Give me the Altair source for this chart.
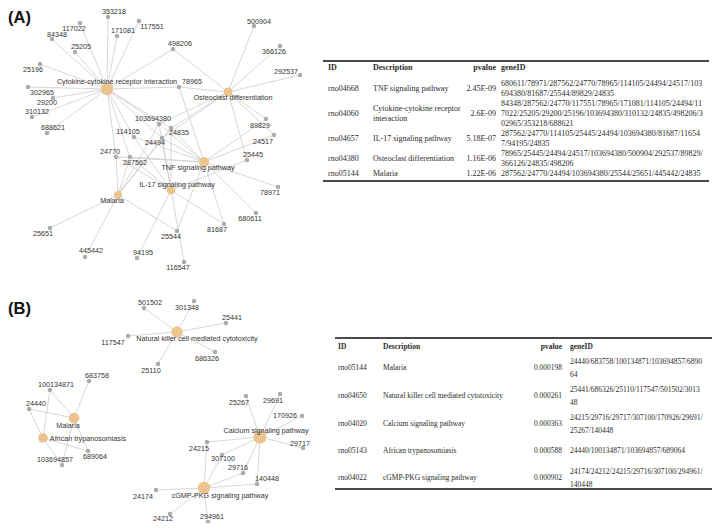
import altair as alt
import pandas as pd

# ---------------- enrichment data (panel A) ----------------
a_ids = ["rno04668", "rno04060", "rno04657", "rno04380", "rno05144"]
a_desc = ["TNF signaling pathway", "Cytokine-cytokine receptor interaction",
          "IL-17 signaling pathway", "Osteoclast differentiation", "Malaria"]
a_desc_lines = [["TNF signaling pathway"], ["Cytokine-cytokine receptor", "interaction"],
                ["IL-17 signaling pathway"], ["Osteoclast differentiation"], ["Malaria"]]
a_pval = ["2.45E-09", "2.6E-09", "5.18E-07", "1.16E-06", "1.22E-06"]
a_gene_lines = [
    ["680611/78971/287562/24770/78965/114105/24494/24517/103", "694380/81687/25544/89829/24835"],
    ["84348/287562/24770/117551/78965/171081/114105/24494/11",
     "7022/25205/29200/25196/103694380/310132/24835/498206/3", "02965/353218/688621"],
    ["287562/24770/114105/25445/24494/103694380/81687/11654", "7/94195/24835"],
    ["78965/25445/24494/24517/103694380/500904/292537/89829/", "366126/24835/498206"],
    ["287562/24770/24494/103694380/25544/25651/445442/24835"],
]
# ---------------- enrichment data (panel B) ----------------
b_ids = ["rno05144", "rno04650", "rno04020", "rno05143", "rno04022"]
b_desc = ["Malaria", "Natural killer cell mediated cytotoxicity", "Calcium signaling pathway",
          "African trypanosomiasis", "cGMP-PKG signaling pathway"]
b_pval = ["0.000198", "0.000261", "0.000363", "0.000588", "0.000902"]
b_gene_lines = [
    ["24440/683758/100134871/103694857/6890", "64"],
    ["25441/686326/25110/117547/501502/3013", "48"],
    ["24215/29716/29717/307100/170926/29691/", "25267/140448"],
    ["24440/100134871/103694857/689064"],
    ["24174/24212/24215/29716/307100/294961/", "140448"],
]
header = ["ID", "Description", "pvalue", "geneID"]

# ---------------- network layouts (figure pixel coords) ----------------
a_nodes = ["353218", "117022", "171081", "117551", "84348", "25205", "498206", "500904",
           "366126", "292537", "25196", "78965", "302965", "29200", "310132", "688621",
           "103694380", "114105", "24835", "24494", "89829", "24517", "24770", "287562",
           "25445", "78971", "680611", "81687", "25544", "25651", "445442", "94195", "116547"]
a_node_x = [108, 80, 117, 139, 52, 75, 173, 254, 280, 300, 40, 179, 28, 53, 32, 47,
            159, 134, 171, 162, 266, 274, 116, 130, 247, 278, 256, 224, 177, 50, 85, 137, 184]
a_node_y = [17, 23, 36, 21, 39, 52, 49, 26, 46, 75, 64, 87, 87, 98, 117, 133,
            124, 137, 128, 138, 119, 135, 157, 157, 160, 187, 213, 224, 231, 228, 257, 258, 262]
a_lab_x = [114, 74, 123, 152, 57, 81, 180, 259, 274, 286, 33, 192, 42, 47, 37, 53,
           153, 128, 179, 155, 260, 263, 110, 135, 253, 270, 250, 217, 171, 43, 91, 143, 178]
a_lab_y = [12, 29, 31, 27, 35, 47, 44, 22, 52, 72, 70, 82, 93, 103, 112, 128,
           119, 132, 133, 143, 126, 142, 152, 163, 155, 193, 219, 230, 237, 234, 251, 253, 268]
a_hub_x = [204, 107, 171, 228, 118]
a_hub_y = [162, 89, 190, 92, 195]
a_hub_lx = [198, 117, 177, 233, 112]
a_hub_ly = [168, 82, 185, 98, 201]

b_nodes = ["501502", "301348", "25441", "117547", "686326", "25110", "683758", "100134871",
           "24440", "103694857", "689064", "25267", "29691", "170926", "29717", "24215",
           "307100", "29716", "140448", "24174", "24212", "294961"]
b_node_x = [144, 194, 226, 128, 215, 158, 89, 50, 29, 62, 88, 246, 280, 302, 303, 207,
            222, 243, 257, 156, 170, 208]
b_node_y = [308, 301, 323, 336, 352, 364, 381, 390, 409, 465, 451, 396, 394, 416, 448, 442,
            455, 473, 484, 490, 514, 522]
b_lab_x = [150, 187, 232, 113, 207, 151, 97, 56, 36, 55, 95, 239, 273, 285, 300, 199,
           223, 238, 267, 143, 163, 212]
b_lab_y = [303, 308, 318, 343, 359, 371, 376, 385, 404, 460, 457, 403, 401, 416, 444, 449,
           459, 468, 479, 497, 519, 517]
b_hub_x = [74, 177, 260, 43, 204]
b_hub_y = [418, 332, 437, 438, 488]
b_hub_lx = [68, 197, 266, 88, 220]
b_hub_ly = [426, 339, 431, 439, 496]


def genes_of(lines):
    return "".join(lines).split("/")


# ---------------- build tables for the library ----------------
def network(nodes, nx, ny, lx, ly, hx, hy, hlx, hly, desc, gene_lines, dmin, dmax):
    pos = {n: (x, y) for n, x, y in zip(nodes, nx, ny)}
    edges, hubs = [], []
    counts = [len(genes_of(g)) for g in gene_lines]
    cmin, cmax = min(counts), max(counts)
    for i, d in enumerate(desc):
        for g in genes_of(gene_lines[i]):
            gx, gy = pos[g]
            edges.append(dict(x=hx[i], y=hy[i], x2=gx, y2=gy))
        dia = dmin + (dmax - dmin) * (counts[i] - cmin) / max(cmax - cmin, 1)
        hubs.append(dict(x=hx[i], y=hy[i], lx=hlx[i], ly=hly[i], name=d,
                         area=3.14159 * (dia / 2) ** 2))
    genes = pd.DataFrame(dict(x=nx, y=ny, lx=lx, ly=ly, name=nodes))
    return pd.DataFrame(edges), genes, pd.DataFrame(hubs)


eA, gA, hA = network(a_nodes, a_node_x, a_node_y, a_lab_x, a_lab_y, a_hub_x, a_hub_y,
                     a_hub_lx, a_hub_ly, a_desc, a_gene_lines, 9, 14)
eB, gB, hB = network(b_nodes, b_node_x, b_node_y, b_lab_x, b_lab_y, b_hub_x, b_hub_y,
                     b_hub_lx, b_hub_ly, b_desc, b_gene_lines, 11, 15)
edges = pd.concat([eA, eB])
genes = pd.concat([gA, gB])
hubs = pd.concat([hA, hB])

# table layout (figure pixel coords)
tA = dict(col=[328, 373, 496, 501], head=68, top=61, bottom=181, x0=323, x1=709,
          rows=[89, 114, 139, 159, 174], step=10, size=8)
tB = dict(col=[338, 383, 562, 570], head=347, top=338, bottom=489, x0=335, x1=716,
          rows=[368, 396, 424, 451, 478], step=13, size=7.5)


def table(ids, descl, pv, gl, L):
    rows = []
    for j, h in enumerate(header):
        rows.append(dict(x=L["col"][j], y=L["head"], t=h, bold=True,
                         right=(j == 2), size=L["size"]))
    for i in range(len(ids)):
        cy = L["rows"][i]
        rows.append(dict(x=L["col"][0], y=cy, t=ids[i], bold=False, right=False, size=L["size"]))
        dl = descl[i]
        for k, s in enumerate(dl):
            rows.append(dict(x=L["col"][1], y=cy + (k - (len(dl) - 1) / 2) * L["step"], t=s,
                             bold=False, right=False, size=L["size"]))
        rows.append(dict(x=L["col"][2], y=cy, t=pv[i], bold=False, right=True, size=L["size"]))
        g = gl[i]
        for k, s in enumerate(g):
            rows.append(dict(x=L["col"][3], y=cy + (k - (len(g) - 1) / 2) * L["step"], t=s,
                             bold=False, right=False, size=L["size"]))
    rules = [dict(x=L["x0"], x2=L["x1"], y=L["top"]), dict(x=L["x0"], x2=L["x1"], y=L["bottom"])]
    return rows, rules


rA, ruA = table(a_ids, a_desc_lines, a_pval, a_gene_lines, tA)
rB, ruB = table(b_ids, [[d] for d in b_desc], b_pval, b_gene_lines, tB)
ttext = pd.DataFrame(rA + rB)
trules = pd.DataFrame(ruA + ruB)
panels = pd.DataFrame(dict(x=[8, 8], y=[18, 309], t=["(A)", "(B)"]))

X = alt.Scale(domain=[8, 712], range=[0, 704], nice=False, zero=False)
Y = alt.Scale(domain=[8, 523], range=[0, 515], nice=False, zero=False)


def xy(xf="x", yf="y"):
    return dict(x=alt.X(f"{xf}:Q", scale=X, axis=None), y=alt.Y(f"{yf}:Q", scale=Y, axis=None))


edge_l = alt.Chart(edges).mark_rule(color="#cdcdcd", strokeWidth=0.8).encode(
    **xy(), x2="x2:Q", y2="y2:Q")
gene_l = alt.Chart(genes).mark_circle(color="#ababab", opacity=1, size=20).encode(**xy())
hub_l = alt.Chart(hubs).mark_circle(color="#ebc48f", opacity=1).encode(
    **xy(), size=alt.Size("area:Q", scale=None, legend=None))
glab = alt.Chart(genes).mark_text(font="Liberation Sans", fontSize=7.2, color="#333333",
                                  baseline="middle").encode(**xy("lx", "ly"), text="name:N")
hlab = alt.Chart(hubs).mark_text(font="Liberation Sans", fontSize=7.2, color="#333333",
                                 baseline="middle").encode(**xy("lx", "ly"), text="name:N")
plab = alt.Chart(panels).mark_text(font="Liberation Sans", fontSize=16.5, fontWeight="bold",
                                   color="#111111", align="left", baseline="middle").encode(
    **xy(), text="t:N")


def tlayer(df, align, weight):
    return alt.Chart(df).mark_text(font="Liberation Serif", color="#2b2b2b", align=align,
                                   baseline="middle", fontWeight=weight).encode(
        **xy(), text="t:N", size=alt.Size("size:Q", scale=None, legend=None))


tl = [tlayer(ttext[(ttext.bold == b) & (ttext.right == r)], "right" if r else "left",
             "bold" if b else "normal")
      for b in (True, False) for r in (True, False)]
rule_l = alt.Chart(trules).mark_rule(color="#4a4a4a", strokeWidth=1.8).encode(
    **xy(), x2="x2:Q")

chart = alt.layer(edge_l, gene_l, hub_l, glab, hlab, plab, rule_l, *tl).properties(
    width=704, height=515, padding=0, autosize=alt.AutoSizeParams(type="none")
).configure_view(strokeWidth=0)

chart.save("out.html", embed_options={"renderer": "svg", "actions": False})
